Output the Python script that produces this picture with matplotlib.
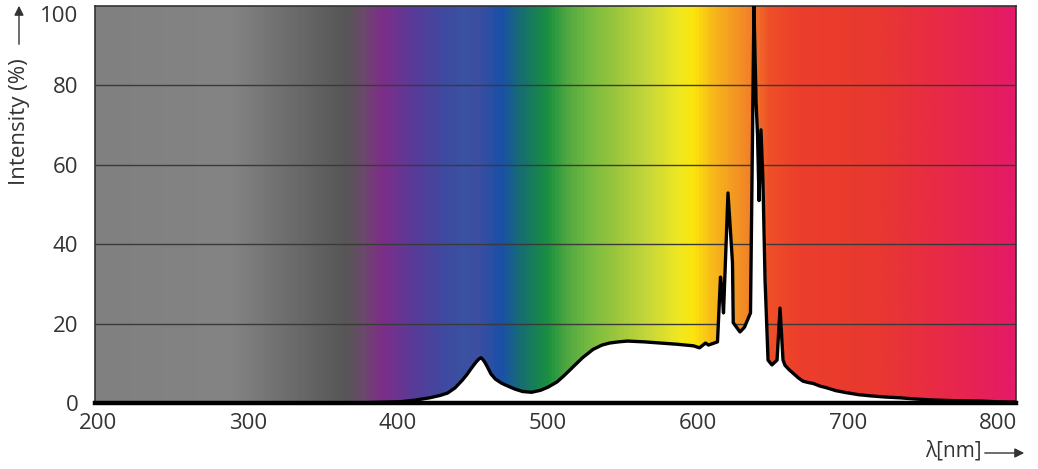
import numpy as np
import matplotlib.pyplot as plt
from matplotlib.colors import LinearSegmentedColormap

# spettro (nm, %)
wavelength = [198, 370, 401, 411, 421, 428, 433, 438, 443, 446, 449, 452, 454, 455.3,
              456.5, 458, 460, 462, 465, 469, 473, 478, 483, 489, 495, 500,
              506, 511, 517, 523, 530, 536, 541, 547, 553, 564, 575, 586, 597,
              601, 605, 607, 613, 615, 616, 617, 620, 623, 623.5, 628, 631, 635,
              636, 637.3, 638.7, 639.7, 640.7, 642, 643.3, 644.7, 646.7, 649.3,
              652.7, 654.7, 656.7, 658, 661, 664, 667, 670, 673, 677, 681, 686,
              692, 699, 707, 715, 725, 735, 745, 757, 770, 788, 800, 812]
intensity = [0, 0, 0.3, 0.7, 1.3, 1.9, 2.5, 3.8, 5.8, 7.2, 8.8, 10.3, 11.1, 11.4,
             11.0, 10.2, 8.8, 7.3, 6.0, 5.0, 4.3, 3.5, 2.9, 2.7, 3.2, 4.0,
             5.3, 7.0, 9.2, 11.4, 13.5, 14.6, 15.1, 15.4, 15.6, 15.4, 15.1, 14.8, 14.4,
             13.9, 15.1, 14.6, 15.4, 31.7, 28.5, 22.7, 52.9, 35.3, 20.2, 17.9, 19.1, 22.7,
             56, 100, 76, 67.5, 51, 68.8, 56, 31, 10.8, 9.6,
             10.8, 23.9, 10.8, 9.5, 8.3, 7.3, 6.3, 5.5, 5.2, 4.9, 4.3, 3.8,
             3.1, 2.6, 2.1, 1.8, 1.5, 1.3, 1.0, 0.75, 0.6, 0.5, 0.3, 0.2]

# sfondo: colori dello spettro
bg_nm = [198, 287, 331, 365, 376, 389, 409, 431, 443, 453, 469, 483, 500, 513,
         529, 548, 568, 588, 598, 608, 621, 635, 648, 668, 721, 768, 812]
bg_colors = ['#808080', '#848484', '#6a6a6a', '#565656', '#6a4a6a', '#7e2e88', '#5a3a98',
             '#3e4aa0', '#3a52a2', '#3c4ea0', '#1a50a8', '#16706e', '#1a9040', '#50a840',
             '#78bc40', '#a0c83c', '#c8d83a', '#f0e820', '#fbe40c', '#f8c018', '#f4a020',
             '#f28228', '#ef5028', '#ec3e2c', '#e83830', '#e8284a', '#e51a68']

xmin, xmax = 198, 812
stops = [(v - xmin) / (xmax - xmin) for v in bg_nm]
cmap = LinearSegmentedColormap.from_list('spettro', list(zip(stops, bg_colors)))

fig = plt.figure(figsize=(10.38, 4.69), dpi=100)
ax = fig.add_axes([95 / 1038, 1 - 403 / 469, (1016 - 95) / 1038, (403 - 6) / 469])

grad = np.linspace(0, 1, 1200).reshape(1, -1)
ax.imshow(grad, cmap=cmap, aspect='auto', extent=[xmin, xmax, 0, 100], zorder=0)

for yv in [20, 40, 60, 80]:
    ax.axhline(yv, color='#3a3a3a', lw=1, zorder=1)

ax.fill_between(wavelength, intensity, 0, color='white', zorder=2)
ax.plot(wavelength, intensity, color='black', lw=2.4, zorder=3, solid_joinstyle='round')

ax.set_xlim(xmin, xmax)
ax.set_ylim(0, 100)
ax.set_xticks([200, 300, 400, 500, 600, 700, 800])
ax.set_yticks([0, 20, 40, 60, 80, 100])
ax.tick_params(length=0, labelsize=16, labelcolor='#333333')
ax.tick_params(axis='x', pad=7)
ax.tick_params(axis='y', pad=12)
for lab in ax.get_xticklabels() + ax.get_yticklabels():
    lab.set_family(['Open Sans', 'DejaVu Sans'])
ax.get_yticklabels()[-1].set_verticalalignment('top')   # il "100" sta dentro la figura

for s in ['left', 'right', 'top']:
    ax.spines[s].set_color('#333333')
    ax.spines[s].set_linewidth(1.2)
ax.spines['bottom'].set_color('black')
ax.spines['bottom'].set_linewidth(3.2)
ax.spines['bottom'].set_zorder(5)

# etichette assi con frecce
fig.text(20 / 1038, 1 - 122 / 469, 'Intensity (%)', rotation=90, ha='center', va='center',
         fontsize=16, color='#333333', family=['Open Sans', 'DejaVu Sans'])
ax.annotate('', xy=(19 / 1038, 1 - 3 / 469), xytext=(19 / 1038, 1 - 47 / 469),
            xycoords='figure fraction', textcoords='figure fraction',
            arrowprops=dict(arrowstyle='-|>', color='#333333', lw=1, mutation_scale=14))

fig.text(953 / 1038, 1 - 451 / 469, 'λ[nm]', ha='center', va='center',
         fontsize=15, color='#333333', family=['Open Sans', 'DejaVu Sans'])
ax.annotate('', xy=(1027 / 1038, 1 - 453 / 469), xytext=(982 / 1038, 1 - 453 / 469),
            xycoords='figure fraction', textcoords='figure fraction',
            arrowprops=dict(arrowstyle='-|>', color='#333333', lw=1, mutation_scale=14))

fig.savefig('out.png', dpi=100)
